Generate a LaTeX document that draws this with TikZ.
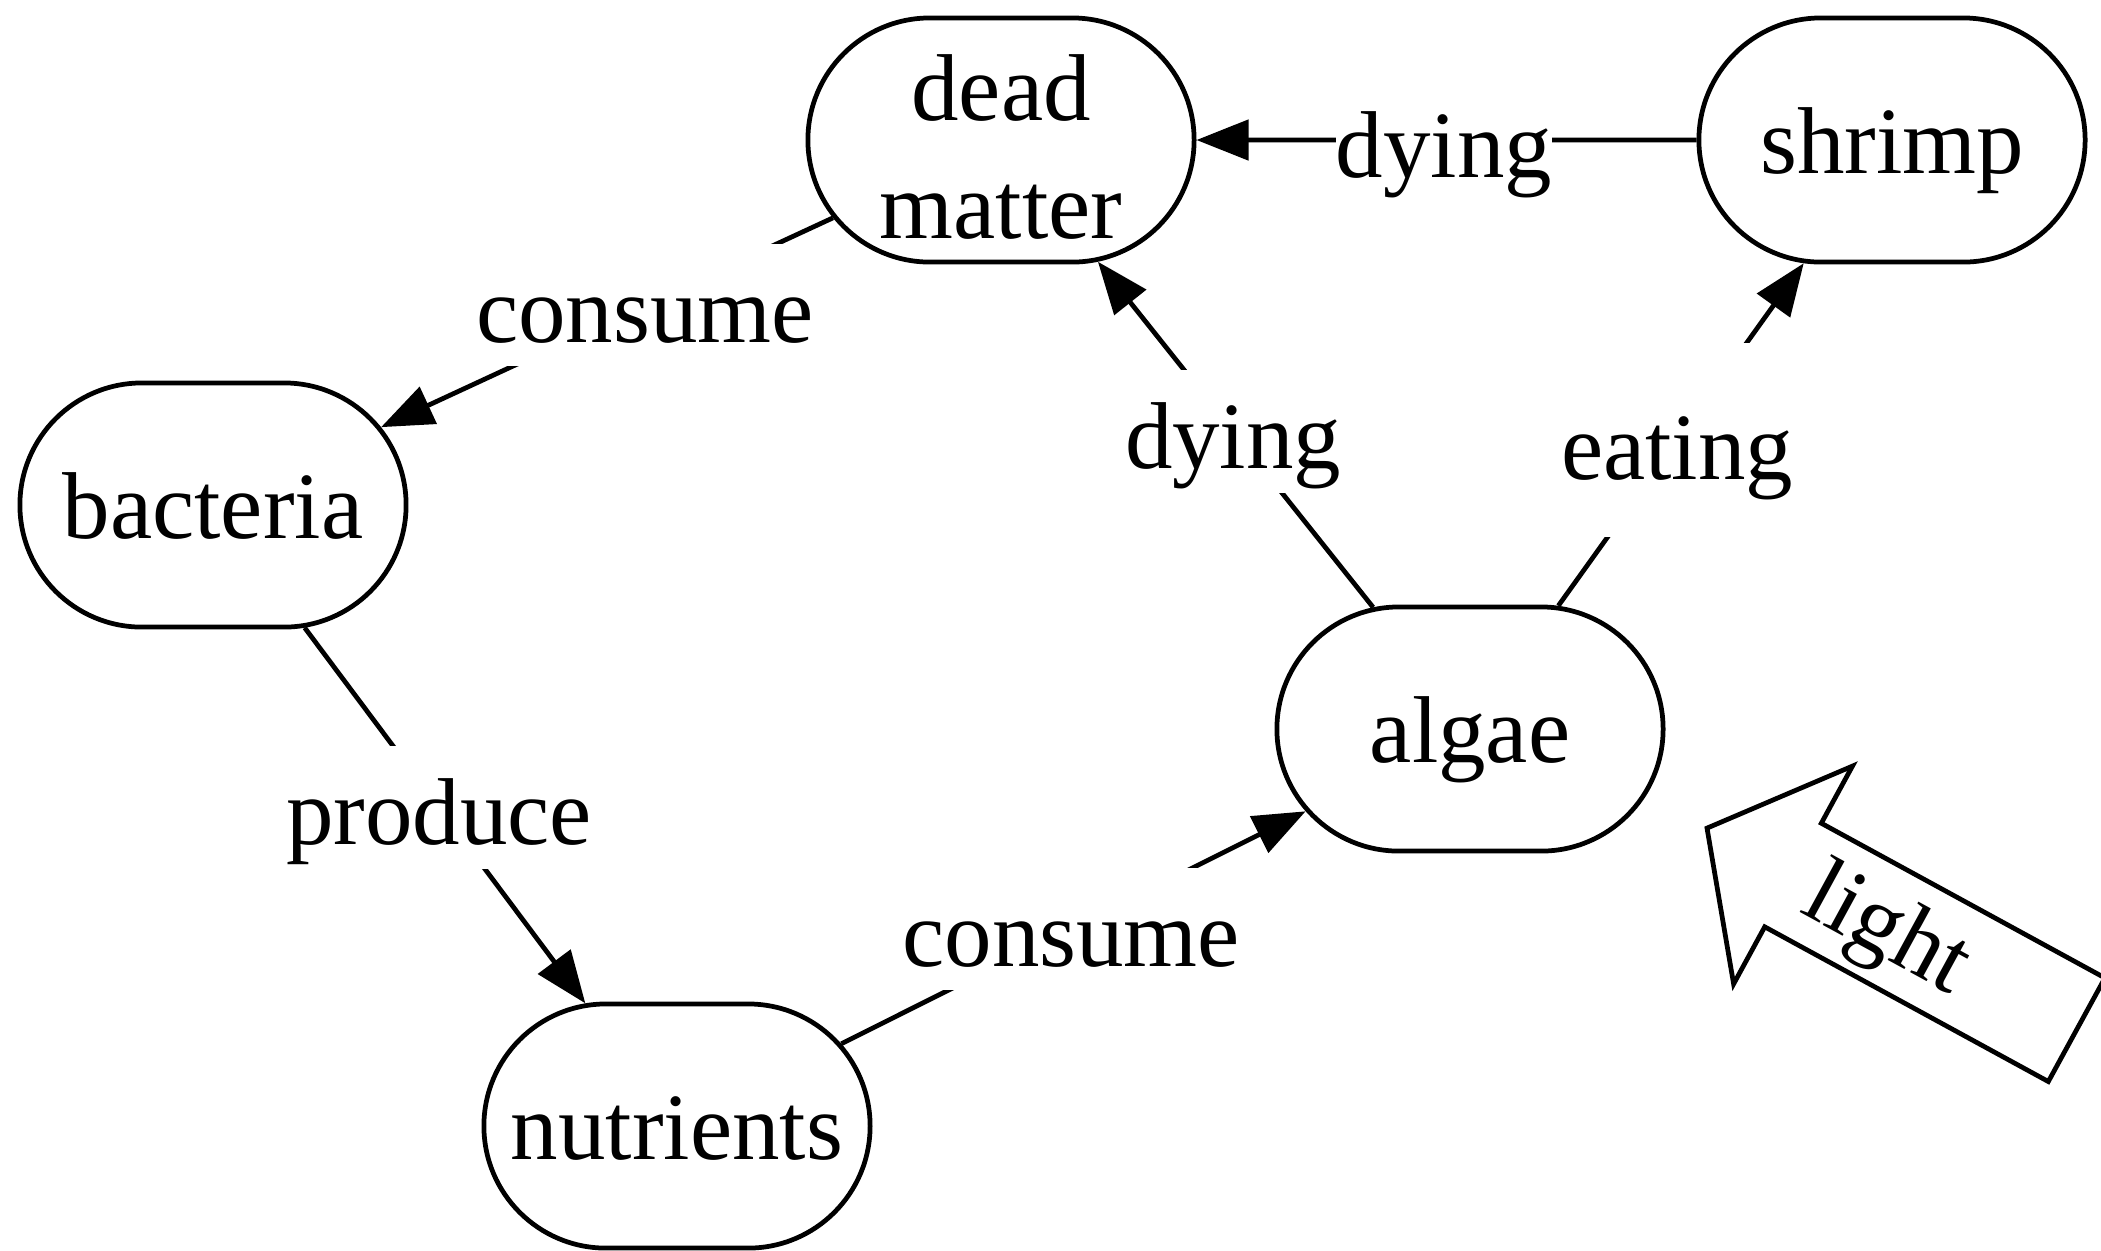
\documentclass[tikz,border=0pt]{standalone}
\usepackage{fontspec}
\setmainfont{Liberation Serif}
\usetikzlibrary{shapes.misc,arrows.meta,calc}
\begin{document}
\begin{tikzpicture}[x=0.01cm,y=-0.01cm,
  font=\fontsize{27}{33.5}\selectfont,
  line width=1.35pt,
  >={Triangle[length=0.52cm,width=0.40cm]},
  state/.style={draw, rounded rectangle, minimum width=3.86cm,
    minimum height=2.44cm, inner sep=0pt, align=center},
  oneline/.style={text height=27pt, text depth=8pt},
  lbl/.style={fill=white, inner sep=0pt, text height=28pt, text depth=6.75pt},
  tall lbl/.style={fill=white, inner sep=0pt, text height=39pt, text depth=16.2pt}
]
\useasboundingbox (0,0) rectangle (2101,1250);

% the five compartments of the cycle
\node[state] (dead) at (1001,140)
  {\raisebox{-0.07cm}[\height][\depth]{\vbox{\halign{\hfil#\hfil\cr dead\cr matter\cr}}}};
\node[state,oneline] (shrimp) at (1892,140) {shrimp};
\node[state,oneline] (bact) at (213,505) {bacteria};
\node[state,oneline] (algae) at (1470,729) {algae};
\node[state,oneline] (nutr) at (677,1126) {nutrients};

% flows between compartments
\draw[->] (dead) -- (bact);
\draw[->] (bact) -- (nutr);
\draw[->] (nutr) -- (algae);
\draw[->] (algae) -- (dead);
\draw[->] (algae) -- (shrimp);
\draw[->] (shrimp) -- (dead);

% flow labels, masking the lines beneath them
\node[lbl] (lconsA) at ($(dead)!0.452!(bact)$) {consume};
\node[lbl] (lprod)  at ($(bact)!0.487!(nutr)$) {produce};
\node[lbl] (lconsB) at ($(nutr)!0.497!(algae)$) {consume};
\node[lbl] (ldieA)  at ($(algae)!0.505!(dead)$) {dying};
\node[tall lbl] (leat) at ($(algae)!0.491!(shrimp)$) {eating};
\node[lbl] (ldieB)  at ($(shrimp)!0.503!(dead)$) {dying};

% incoming light: a hollow block arrow
\draw[line join=miter] (1707,828.1) -- (1852.4,766.1) -- (1821.3,823.2)
  -- (2104.9,977.9) -- (2048.3,1081.5) -- (1764.7,926.8)
  -- (1733.6,983.9) -- cycle;
\node[rotate=-28.6] (light) at (1885.3,933.3) {light};
\end{tikzpicture}
\end{document}
